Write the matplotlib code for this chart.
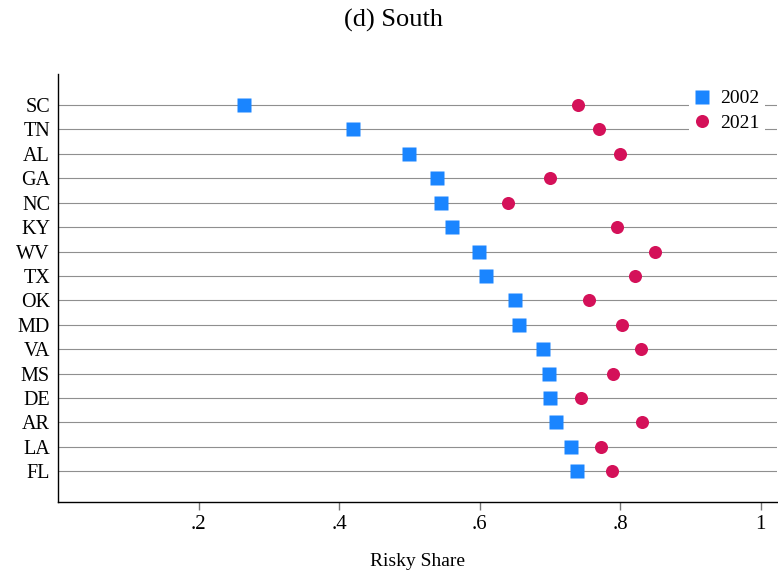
import matplotlib
matplotlib.use("Agg")
import matplotlib.pyplot as plt
import numpy as np

states = ["SC", "TN", "AL", "GA", "NC", "KY", "WV", "TX",
          "OK", "MD", "VA", "MS", "DE", "AR", "LA", "FL"]
share_2002 = [0.265, 0.420, 0.499, 0.539, 0.545, 0.560, 0.599, 0.609,
              0.650, 0.656, 0.690, 0.699, 0.700, 0.708, 0.730, 0.738]
share_2021 = [0.740, 0.769, 0.800, 0.700, 0.640, 0.795, 0.849, 0.821,
              0.756, 0.802, 0.830, 0.790, 0.744, 0.831, 0.773, 0.788]
xticks = [0.2, 0.4, 0.6, 0.8, 1.0]
xticklabels = [".2", ".4", ".6", ".8", "1"]

plt.rcParams["font.family"] = ["Liberation Serif", "DejaVu Serif"]

W, H = 778, 572
fig = plt.figure(figsize=(W / 100, H / 100), dpi=100)
ax = fig.add_axes([58.3 / W, (H - 502.3) / H, (777 - 58.3) / W, (502.3 - 74) / H])

y = np.arange(len(states))
for yi in y:
    ax.axhline(yi, color="#8f8f8f", lw=0.8, zorder=1)

ax.plot(share_2002, y, ls="none", marker="s", ms=9.6, color="#1A85FF",
        mec="none", label="2002", zorder=3)
ax.plot(share_2021, y, ls="none", marker="o", ms=9.4, color="#D41159",
        mec="none", label="2021", zorder=3)

ax.set_xlim(0, 1.023)
ax.set_ylim(len(states) - 1 + 1.27, -1.27)
ax.set_yticks(y)
ax.set_yticklabels(states, fontsize=14.5)
ax.tick_params(axis="y", length=0, pad=6)
ax.set_xticks(xticks)
ax.set_xticklabels(xticklabels, fontsize=15)
ax.tick_params(axis="x", length=6, width=1, color="#777777", pad=3)

for side in ["top", "right"]:
    ax.spines[side].set_visible(False)
for side in ["left", "bottom"]:
    ax.spines[side].set_color("black")
    ax.spines[side].set_linewidth(1.0)

ax.set_xlabel("Risky Share", fontsize=14, labelpad=14)

leg = ax.legend(loc="upper right", bbox_to_anchor=((765 - 58.3) / (777 - 58.3), 1 - (84 - 74) / (502.3 - 74)),
                frameon=True, fancybox=False, fontsize=14, handlelength=0.8,
                handletextpad=0.5, borderpad=0.3, labelspacing=0.35,
                borderaxespad=0)
leg.get_frame().set_facecolor("white")
leg.get_frame().set_edgecolor("none")
leg.get_frame().set_alpha(1)
leg.set_zorder(5)

fig.text(394 / W, 1 - 20 / H, "(d) South", ha="center", va="center", fontsize=19)

fig.savefig("out.png", dpi=100, facecolor="white")
